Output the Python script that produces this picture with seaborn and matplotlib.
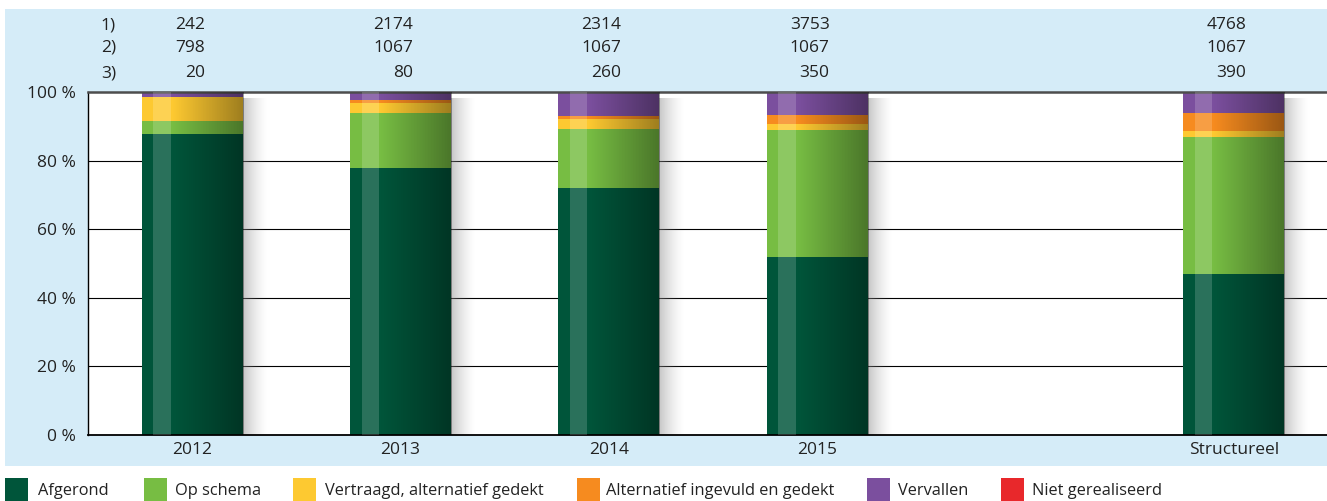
import numpy as np
import pandas as pd
import seaborn as sns
import matplotlib.pyplot as plt
import matplotlib.transforms as mtransforms
from matplotlib.patches import Rectangle

# Data (percentages per category)
categories = ["2012", "2013", "2014", "2015", "", "Structureel"]
series = ["Afgerond", "Op schema", "Vertraagd, alternatief gedekt",
          "Alternatief ingevuld en gedekt", "Vervallen", "Niet gerealiseerd"]
afgerond = [87.8, 77.8, 72.0, 51.9, 0, 46.9]
op_schema = [3.8, 16.0, 17.3, 37.1, 0, 40.0]
vertraagd = [6.8, 3.1, 2.8, 1.7, 0, 1.7]
alternatief = [0.0, 0.8, 0.9, 2.6, 0, 5.2]
vervallen = [1.6, 2.3, 7.0, 6.7, 0, 6.2]
niet_gerealiseerd = [0, 0, 0, 0, 0, 0]

# Header rows above the chart
row_labels = ["1)", "2)", "3)"]
row1 = ["242", "2174", "2314", "3753", "", "4768"]
row2 = ["798", "1067", "1067", "1067", "", "1067"]
row3 = ["20", "80", "260", "350", "", "390"]

colors = ["#00553a", "#77bd43", "#fdc931", "#f68b1f", "#7b4f9e", "#e8282b"]
bg_blue = "#d5ecf8"
text_col = "#222222"

sns.set_style("white")
plt.rcParams['font.family'] = ['Open Sans', 'DejaVu Sans']

W, H = 1327, 501
def fx(px):
    return px / W
def fy(py):
    return 1 - py / H

fig = plt.figure(figsize=(W / 100, H / 100), dpi=100)
fig.patches.append(Rectangle((fx(5), fy(466)), fx(1327) - fx(5), fy(9) - fy(466),
                             transform=fig.transFigure, facecolor=bg_blue,
                             edgecolor='none', zorder=-1))

ax = fig.add_axes([fx(88), fy(435), (1338 - 88) / W, (435 - 92) / H])
ax.set_facecolor('white')

# Stacked bars: draw cumulative totals from the top layer down
layers = [afgerond, op_schema, vertraagd, alternatief, vervallen, niet_gerealiseerd]
cum = np.cumsum(layers, axis=0)
bar_w = 0.485
for i in range(len(series) - 1, -1, -1):
    if sum(layers[i]) == 0:
        continue
    df = pd.DataFrame({'categorie': categories, 'waarde': cum[i]})
    sns.barplot(data=df, x='categorie', y='waarde', color=colors[i], width=bar_w,
                saturation=1, errorbar=None, ax=ax, zorder=2, linewidth=0)

# Shading: darker to the right, light stripe, soft shadow
grad = np.linspace(0, 1, 256)
dark = np.zeros((1, 256, 4))
dark[..., 3] = np.clip((grad - 0.3) / 0.7, 0, 1) * 0.38
shadow = np.zeros((1, 256, 4))
shadow[..., :3] = 0.55
shadow[..., 3] = (1 - grad) ** 1.5 * 0.5
totals = cum[-1]
for j, tot in enumerate(totals):
    if tot <= 0:
        continue
    left, right = j - bar_w / 2, j + bar_w / 2
    ax.imshow(dark, extent=[left, right, 0, tot], aspect='auto', zorder=3,
              interpolation='bilinear')
    ax.add_patch(Rectangle((left + 0.115 * bar_w, 0), 0.172 * bar_w, tot,
                           facecolor='white', alpha=0.17, lw=0, zorder=4))
    ax.imshow(shadow, extent=[right, right + 0.12, 0, tot * 0.98], aspect='auto',
              zorder=1.5, interpolation='bilinear')

ax.set_xlim(-0.5, 5.5)
ax.set_ylim(0, 100)

for v in [20, 40, 60, 80]:
    ax.axhline(v, color='black', lw=0.8, zorder=1)

ax.spines['right'].set_visible(False)
ax.spines['top'].set_color('#4d4d4d')
ax.spines['top'].set_linewidth(1.8)
ax.spines['left'].set_color('black')
ax.spines['bottom'].set_color('black')
ax.spines['bottom'].set_linewidth(1.3)
ax.spines['left'].set_linewidth(1.0)

ax.set_xticks(range(len(categories)))
ax.set_xticklabels(categories)
ax.set_xticks([k + 0.5 for k in range(len(categories) - 1)], minor=True)
ax.tick_params(axis='x', which='major', length=0, pad=5, labelsize=12.5, labelcolor=text_col)
ax.tick_params(axis='x', which='minor', direction='in', length=8, width=0.8, color='black')
ax.set_yticks([0, 20, 40, 60, 80, 100])
ax.set_yticklabels([f"{v} %" for v in [0, 20, 40, 60, 80, 100]])
ax.tick_params(axis='y', length=0, pad=9, labelsize=12.5, labelcolor=text_col)
ax.set_xlabel("")
ax.set_ylabel("")

# Header numbers
trans = mtransforms.blended_transform_factory(ax.transData, fig.transFigure)
rows_y = [25, 48, 73]
for lab, vals, py in zip(row_labels, [row1, row2, row3], rows_y):
    fig.text(fx(116), fy(py), lab, ha='right', va='center', fontsize=12.5, color=text_col)
    for j, v in enumerate(vals):
        ax.text(j + 0.06, fy(py), v, transform=trans, ha='right', va='center',
                fontsize=12.5, color=text_col, clip_on=False)

# Legend
sq_x = [5, 144, 293, 577, 867, 1001]
tx_x = [38, 175, 325, 606, 898, 1032]
for name, c, sx, tx in zip(series, colors, sq_x, tx_x):
    fig.patches.append(Rectangle((fx(sx), fy(501)), 23 / W, 23 / H,
                                 transform=fig.transFigure, facecolor=c, edgecolor='none'))
    fig.text(fx(tx), fy(491), name, ha='left', va='center', fontsize=11.8, color=text_col)

fig.savefig("out.png", dpi=100)
